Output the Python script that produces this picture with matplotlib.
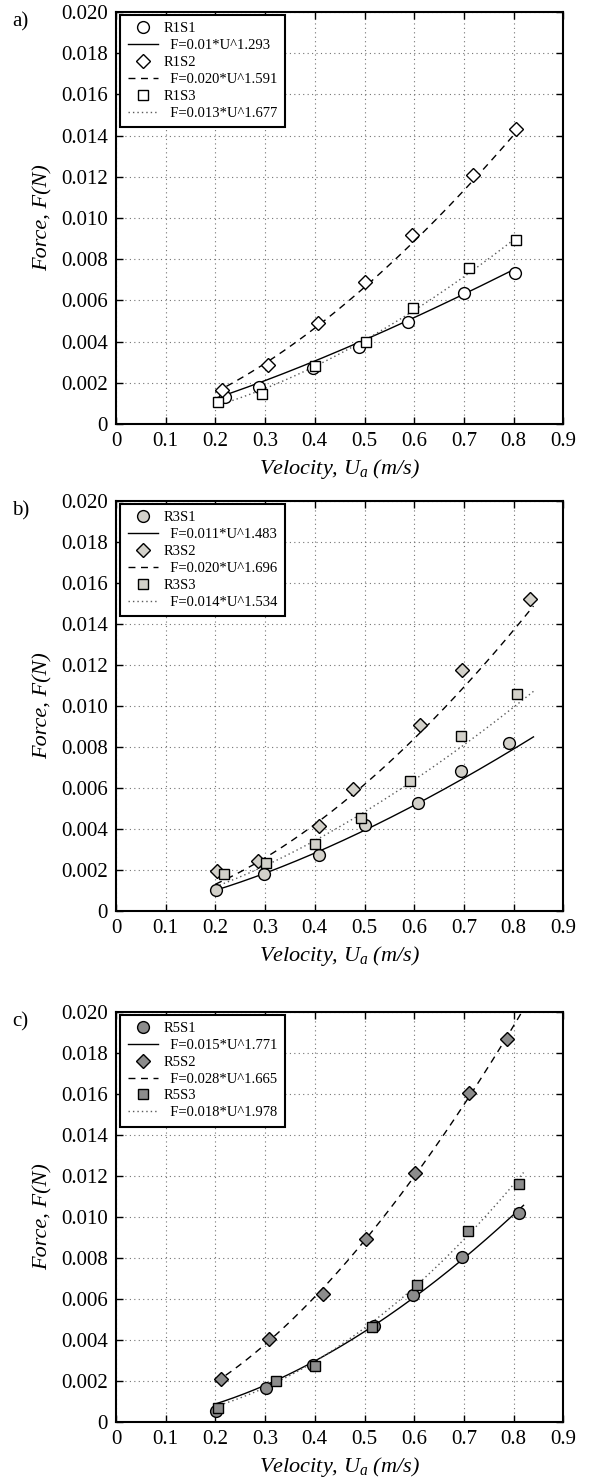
import numpy as np
import matplotlib
matplotlib.use("Agg")
import matplotlib.pyplot as plt

plt.rcParams['font.family'] = ['Liberation Serif', 'DejaVu Serif']
plt.rcParams['mathtext.fontset'] = 'custom'
plt.rcParams['mathtext.rm'] = 'Liberation Serif'
plt.rcParams['mathtext.it'] = 'Liberation Serif:italic'

# ---------------- data ----------------
x_ticks = [0, 0.1, 0.2, 0.3, 0.4, 0.5, 0.6, 0.7, 0.8, 0.9]
x_tick_labels = ["0", "0.1", "0.2", "0.3", "0.4", "0.5", "0.6", "0.7", "0.8", "0.9"]
y_ticks = [0, 0.002, 0.004, 0.006, 0.008, 0.010, 0.012, 0.014, 0.016, 0.018, 0.020]
y_tick_labels = ["0", "0.002", "0.004", "0.006", "0.008", "0.010", "0.012",
                 "0.014", "0.016", "0.018", "0.020"]

panel_letters = ["a)", "b)", "c)"]
series_names = [["R1S1", "R1S2", "R1S3"],
                ["R3S1", "R3S2", "R3S3"],
                ["R5S1", "R5S2", "R5S3"]]

# panel a
a_s1_u = [0.219, 0.288, 0.397, 0.489, 0.588, 0.701, 0.803]
a_s1_f = [0.00133, 0.00181, 0.00274, 0.00374, 0.00497, 0.00634, 0.00733]
a_s2_u = [0.214, 0.305, 0.407, 0.501, 0.596, 0.718, 0.805]
a_s2_f = [0.00165, 0.00287, 0.00489, 0.00690, 0.00917, 0.01209, 0.01432]
a_s3_u = [0.205, 0.294, 0.400, 0.504, 0.597, 0.711, 0.805]
a_s3_f = [0.00105, 0.00146, 0.00282, 0.00400, 0.00565, 0.00756, 0.00892]
a_coef = [0.01, 0.020, 0.013]
a_expo = [1.293, 1.591, 1.677]
a_labels = ["F=0.01*U^1.293", "F=0.020*U^1.591", "F=0.013*U^1.677"]

# panel b
b_s1_u = [0.201, 0.298, 0.409, 0.500, 0.608, 0.694, 0.791]
b_s1_f = [0.00102, 0.00179, 0.00275, 0.00420, 0.00527, 0.00681, 0.00821]
b_s2_u = [0.204, 0.285, 0.409, 0.476, 0.612, 0.697, 0.832]
b_s2_f = [0.00195, 0.00245, 0.00416, 0.00597, 0.00906, 0.01176, 0.01524]
b_s3_u = [0.218, 0.301, 0.401, 0.493, 0.592, 0.694, 0.807]
b_s3_f = [0.00179, 0.00233, 0.00325, 0.00452, 0.00636, 0.00855, 0.01057]
b_coef = [0.011, 0.020, 0.014]
b_expo = [1.483, 1.696, 1.534]
b_labels = ["F=0.011*U^1.483", "F=0.020*U^1.696", "F=0.014*U^1.534"]

# panel c
c_s1_u = [0.201, 0.301, 0.397, 0.520, 0.598, 0.697, 0.810]
c_s1_f = [0.00054, 0.00163, 0.00277, 0.00467, 0.00616, 0.00803, 0.01020]
c_s2_u = [0.211, 0.308, 0.416, 0.503, 0.602, 0.710, 0.787]
c_s2_f = [0.00208, 0.00402, 0.00621, 0.00891, 0.01215, 0.01602, 0.01867]
c_s3_u = [0.205, 0.321, 0.400, 0.515, 0.605, 0.709, 0.810]
c_s3_f = [0.00065, 0.00200, 0.00272, 0.00460, 0.00665, 0.00932, 0.01160]
c_coef = [0.015, 0.028, 0.018]
c_expo = [1.771, 1.665, 1.978]
c_labels = ["F=0.015*U^1.771", "F=0.028*U^1.665", "F=0.018*U^1.978"]

fit_ranges = [(0.20, 0.805), (0.20, 0.84), (0.20, 0.82)]

panels = [
    ([(a_s1_u, a_s1_f), (a_s2_u, a_s2_f), (a_s3_u, a_s3_f)], a_coef, a_expo, a_labels),
    ([(b_s1_u, b_s1_f), (b_s2_u, b_s2_f), (b_s3_u, b_s3_f)], b_coef, b_expo, b_labels),
    ([(c_s1_u, c_s1_f), (c_s2_u, c_s2_f), (c_s3_u, c_s3_f)], c_coef, c_expo, c_labels),
]

# ---------------- style ----------------
face_colors = ['white', '#d3d1ca', '#8c8c8c']
markers = ['o', 'D', 's']
marker_sizes = [8.5, 6.8, 7.2]
line_styles = ['-', (0, (5, 4)), (0, (1, 2.2))]
line_colors = ['black', 'black', '0.35']

W, H = 594, 1483
fig = plt.figure(figsize=(W / 100, H / 100), dpi=100)

ax_left, ax_right = 116, 563.3
ax_tops = [12, 501, 1011.7]
ax_bots = [424, 911, 1421.7]

for i, (series, coefs, expos, flabels) in enumerate(panels):
    rect = [ax_left / W, 1 - ax_bots[i] / H, (ax_right - ax_left) / W,
            (ax_bots[i] - ax_tops[i]) / H]
    ax = fig.add_axes(rect)
    uu = np.linspace(fit_ranges[i][0], fit_ranges[i][1], 200)
    for k in range(3):
        u, f = series[k]
        ax.plot(u, f, linestyle='none', marker=markers[k], ms=marker_sizes[k],
                mfc=face_colors[i], mec='black', mew=1.0, label=series_names[i][k],
                zorder=4)
        ax.plot(uu, coefs[k] * uu ** expos[k], linestyle=line_styles[k],
                color=line_colors[k], lw=1.0, label="  " + flabels[k], zorder=3)
    ax.set_xlim(0, 0.9)
    ax.set_ylim(0, 0.020)
    ax.set_xticks(x_ticks)
    ax.set_xticklabels(x_tick_labels)
    ax.set_yticks(y_ticks)
    ax.set_yticklabels(y_tick_labels)
    ax.tick_params(direction='in', top=True, right=True, length=5, width=1,
                   labelsize=15, pad=6)
    ax.grid(True, linestyle=(0, (1, 3)), color='0.45', linewidth=0.8)
    for sp in ax.spines.values():
        sp.set_linewidth(1.5)
    ax.set_ylabel("Force, F(N)", fontsize=16, fontstyle='italic', labelpad=6)
    ax.set_xlabel("Velocity, $U_a$ (m/s)", fontsize=16, fontstyle='italic',
                  labelpad=4)
    leg = ax.legend(loc='upper left', bbox_to_anchor=(0.01, 0.993),
                    borderaxespad=0, fontsize=10.5, handlelength=2.1,
                    handletextpad=0.35, labelspacing=0.25, borderpad=0.5,
                    fancybox=False, framealpha=1, edgecolor='black')
    leg.get_frame().set_linewidth(1.5)
    fig.text(12 / W, 1 - (ax_tops[i] + 10) / H, panel_letters[i], fontsize=15,
             ha='left', va='center')

fig.savefig("out.png", dpi=100)
